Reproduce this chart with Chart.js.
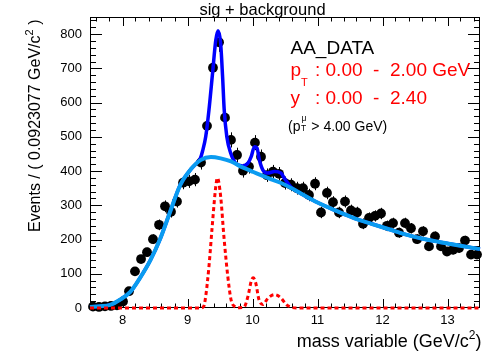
<!DOCTYPE html>
<html>
<head>
<meta charset="utf-8">
<script src="https://cdn.jsdelivr.net/npm/chart.js@4.4.0/dist/chart.umd.min.js"></script>
<style>
  html, body { margin: 0; padding: 0; background: #fff; }
  #wrap { width: 491px; height: 354px; }
</style>
</head>
<body>
<div id="wrap"><canvas id="massChart" width="491" height="354"></canvas></div>
<script>
// histogram: 65 bins of 0.0923077 GeV/c^2 between 7.5 and 13.5
const binWidth = 0.0923077;
const massBins = [
  7.546, 7.638, 7.731, 7.823, 7.915, 8.008, 8.100, 8.192, 8.285, 8.377,
  8.469, 8.562, 8.654, 8.746, 8.838, 8.931, 9.023, 9.115, 9.208, 9.300,
  9.392, 9.485, 9.577, 9.669, 9.762, 9.854, 9.946, 10.038, 10.131, 10.223,
  10.315, 10.408, 10.500, 10.592, 10.685, 10.777, 10.869, 10.962, 11.054, 11.146,
  11.238, 11.331, 11.423, 11.515, 11.608, 11.700, 11.792, 11.885, 11.977, 12.069,
  12.162, 12.254, 12.346, 12.438, 12.531, 12.623, 12.715, 12.808, 12.900, 12.992,
  13.085, 13.177, 13.269, 13.362, 13.454
];
const eventCounts = [
  4, 3, 5, 6, 8, 19, 49, 107, 143, 163,
  201, 243, 297, 281, 311, 366, 370, 375, 425, 532,
  702, 776, 556, 491, 447, 401, 413, 483, 442, 388,
  398, 392, 365, 360, 350, 350, 330, 363, 279, 336,
  309, 279, 311, 285, 279, 246, 263, 269, 276, 240,
  248, 220, 248, 233, 201, 224, 180, 209, 180, 165,
  170, 175, 197, 156, 156
];

// background component (light blue)
const bkgMass = [7.50, 7.65, 7.81, 7.96, 8.12, 8.27, 8.43, 8.58, 8.74, 8.89, 9.05, 9.20, 9.36, 9.51, 9.67,
  9.82, 9.98, 10.13, 10.29, 10.44, 10.60, 10.75, 11.00, 11.31, 11.57, 11.83, 12.10, 12.35, 12.60, 12.87, 13.20, 13.50];
const bkgCurve = [3, 5, 9, 24, 47, 88, 140, 202, 285, 360, 405, 432, 441, 437, 428,
  413, 400, 388, 376, 365, 350, 334, 308, 282, 262, 246, 230, 215, 203, 193, 182, 172];

// signal + background (blue)
const totMass = [7.50, 7.81, 7.96, 8.12, 8.27, 8.43, 8.58, 8.74, 8.89, 9.05, 9.15, 9.20, 9.23, 9.28, 9.33,
  9.385, 9.435, 9.47, 9.51, 9.54, 9.565, 9.605, 9.665, 9.74, 9.85, 9.93, 9.98, 10.03, 10.07, 10.105,
  10.16, 10.235, 10.34, 10.44, 10.49, 10.60, 10.75, 11.00, 11.31, 11.57, 11.83, 12.10, 12.35, 12.60, 12.87, 13.20, 13.50];
const totCurve = [3, 9, 24, 47, 88, 140, 202, 285, 360, 405, 425, 438, 457, 500, 578,
  685, 782, 810, 773, 675, 578, 500, 452, 423, 415, 423, 442, 471, 467, 433,
  403, 394, 399, 394, 379, 352, 334, 308, 282, 262, 246, 230, 215, 203, 193, 182, 172];

// signal component (red dashed)
const sigMass = [7.50, 9.20, 9.25, 9.28, 9.33, 9.38, 9.435, 9.46, 9.51, 9.56, 9.62, 9.67, 9.72, 9.80,
  9.87, 9.93, 9.98, 10.01, 10.05, 10.10, 10.16, 10.24, 10.34, 10.44, 10.52, 10.60, 10.70, 13.50];
const sigCurve = [0, 0, 5, 34, 121, 238, 355, 380, 326, 209, 92, 24, 5, 1,
  3, 34, 78, 88, 73, 24, 10, 29, 39, 29, 10, 2, 0, 0];

const xTickValues = [8, 9, 10, 11, 12, 13];
const yTickValues = [0, 100, 200, 300, 400, 500, 600, 700, 800];

const FONT = '"Liberation Sans", Arial, Helvetica, sans-serif';

function toPoints(xs, ys) {
  return xs.map((x, i) => ({ x: x, y: ys[i] }));
}

// draw a run of text pieces (sub/superscripts) along one baseline
function drawRuns(ctx, x, y, runs) {
  runs.forEach(function(r) {
    ctx.font = r.size + 'px ' + FONT;
    ctx.fillStyle = r.color || '#000';
    ctx.fillText(r.text, x, y + (r.dy || 0));
    x += ctx.measureText(r.text).width;
  });
  return x;
}

function runsWidth(ctx, runs) {
  let w = 0;
  runs.forEach(function(r) {
    ctx.font = r.size + 'px ' + FONT;
    w += ctx.measureText(r.text).width;
  });
  return w;
}

// ROOT-like frame with inward ticks on all four sides
const rootFrame = {
  id: 'rootFrame',
  beforeDatasetsDraw(chart) {
    const { ctx, chartArea: a, scales: { x, y } } = chart;
    ctx.save();
    ctx.strokeStyle = '#000';
    ctx.lineWidth = 1;
    ctx.strokeRect(a.left + 0.5, a.top + 0.5, a.right - a.left - 1, a.bottom - a.top - 1);
    ctx.beginPath();
    for (let k = 38; k <= 67; k++) {
      const v = k / 5;
      const len = k % 5 === 0 ? 9 : 4.5;
      const px = Math.round(x.getPixelForValue(v)) + 0.5;
      ctx.moveTo(px, a.bottom);
      ctx.lineTo(px, a.bottom - len);
      ctx.moveTo(px, a.top);
      ctx.lineTo(px, a.top + len);
    }
    for (let v = 20; v <= 840; v += 20) {
      const len = v % 100 === 0 ? 12 : 6;
      const py = Math.round(y.getPixelForValue(v)) + 0.5;
      ctx.moveTo(a.left, py);
      ctx.lineTo(a.left + len, py);
      ctx.moveTo(a.right, py);
      ctx.lineTo(a.right - len, py);
    }
    ctx.stroke();
    ctx.restore();
  },
  afterDraw(chart) {
    const ctx = chart.ctx;
    ctx.save();
    ctx.textBaseline = 'alphabetic';

    // title
    const title = [{ text: 'sig + background', size: 16.5 }];
    drawRuns(ctx, 262.5 - runsWidth(ctx, title) / 2, 15, title);

    // x axis title, right aligned
    const xTitle = [
      { text: 'mass variable (GeV/c', size: 18 },
      { text: '2', size: 12, dy: -8 },
      { text: ')', size: 18 }
    ];
    drawRuns(ctx, 481.5 - runsWidth(ctx, xTitle), 347, xTitle);

    // y axis title, rotated
    ctx.save();
    ctx.translate(39.5, 232);
    ctx.rotate(-Math.PI / 2);
    drawRuns(ctx, 0, 0, [
      { text: 'Events / ( 0.0923077 GeV/c', size: 16 },
      { text: '2', size: 11, dy: -7 },
      { text: ' )', size: 16 }
    ]);
    ctx.restore();

    // labels
    drawRuns(ctx, 290.5, 53.5, [{ text: 'AA_DATA', size: 19 }]);
    drawRuns(ctx, 290.5, 76, [
      { text: 'p', size: 19, color: '#ff0000' },
      { text: 'T', size: 11, dy: 10, color: '#ff0000' }
    ]);
    drawRuns(ctx, 315, 76, [{ text: ': 0.00  -  2.00 GeV', size: 19, color: '#ff0000' }]);
    drawRuns(ctx, 290.5, 103.5, [{ text: 'y', size: 19, color: '#ff0000' }]);
    drawRuns(ctx, 315, 103.5, [{ text: ': 0.00  -  2.40', size: 19, color: '#ff0000' }]);

    const px = drawRuns(ctx, 288, 131, [{ text: '(p', size: 14 }]);
    drawRuns(ctx, px + 0.5, 131, [{ text: 'T', size: 8.5, dy: 0 }]);
    drawRuns(ctx, px + 1, 131, [{ text: '\u03bc', size: 8.5, dy: -10 }]);
    drawRuns(ctx, px + 7, 131, [{ text: ' > 4.00 GeV)', size: 14 }]);
    ctx.restore();
  }
};

// vertical Poisson-like error bars on the data points
const errorBars = {
  id: 'errorBars',
  beforeDatasetDraw(chart, args) {
    if (args.index !== 0) return;
    const { ctx, scales: { x, y } } = chart;
    ctx.save();
    ctx.strokeStyle = '#000';
    ctx.lineWidth = 1;
    ctx.beginPath();
    massBins.forEach(function(m, i) {
      const n = eventCounts[i];
      const err = Math.sqrt(n);
      const px = Math.round(x.getPixelForValue(m)) + 0.5;
      const py = Math.round(y.getPixelForValue(n)) + 0.5;
      ctx.moveTo(px, y.getPixelForValue(n + err));
      ctx.lineTo(px, y.getPixelForValue(Math.max(0, n - err)));
      ctx.moveTo(x.getPixelForValue(m - binWidth / 2), py);
      ctx.lineTo(x.getPixelForValue(m + binWidth / 2), py);
    });
    ctx.stroke();
    ctx.restore();
  }
};

const ctx = document.getElementById('massChart').getContext('2d');
new Chart(ctx, {
  type: 'scatter',
  data: {
    datasets: [
      {
        label: 'AA_DATA',
        data: toPoints(massBins, eventCounts),
        backgroundColor: '#000',
        borderColor: '#000',
        pointRadius: 4.9,
        pointBorderWidth: 0,
        clip: false,
        order: 4
      },
      {
        label: 'sig + background',
        data: toPoints(totMass, totCurve),
        showLine: true,
        borderColor: '#0000ff',
        borderWidth: 3.5,
        pointRadius: 0,
        cubicInterpolationMode: 'monotone',
        clip: false,
        order: 3
      },
      {
        label: 'background',
        data: toPoints(bkgMass, bkgCurve),
        showLine: true,
        borderColor: 'rgb(10,155,240)',
        borderWidth: 4,
        pointRadius: 0,
        cubicInterpolationMode: 'monotone',
        clip: false,
        order: 2
      },
      {
        label: 'signal',
        data: toPoints(sigMass, sigCurve),
        showLine: true,
        borderColor: '#ff0000',
        borderWidth: 3,
        borderDash: [4, 3],
        pointRadius: 0,
        cubicInterpolationMode: 'monotone',
        clip: false,
        order: 1
      }
    ]
  },
  options: {
    responsive: false,
    animation: false,
    devicePixelRatio: 1,
    layout: { padding: { top: 17, right: 11, left: 0, bottom: 0 } },
    plugins: {
      legend: { display: false },
      tooltip: { enabled: false },
      title: { display: false }
    },
    scales: {
      x: {
        type: 'linear',
        min: 7.5,
        max: 13.5,
        afterBuildTicks: function(scale) {
          scale.ticks = xTickValues.map(v => ({ value: v }));
        },
        afterFit: function(scale) { scale.height = 46; },
        grid: { display: false, drawTicks: false },
        border: { display: false },
        ticks: {
          font: { family: FONT, size: 13 },
          color: '#000',
          padding: 5,
          maxRotation: 0,
          autoSkip: false
        }
      },
      y: {
        type: 'linear',
        min: 0,
        max: 850,
        afterBuildTicks: function(scale) {
          scale.ticks = yTickValues.map(v => ({ value: v }));
        },
        afterFit: function(scale) { scale.width = 90; },
        grid: { display: false, drawTicks: false },
        border: { display: false },
        ticks: {
          font: { family: FONT, size: 13 },
          color: '#000',
          padding: 8,
          autoSkip: false
        }
      }
    }
  },
  plugins: [rootFrame, errorBars]
});
</script>
</body>
</html>
